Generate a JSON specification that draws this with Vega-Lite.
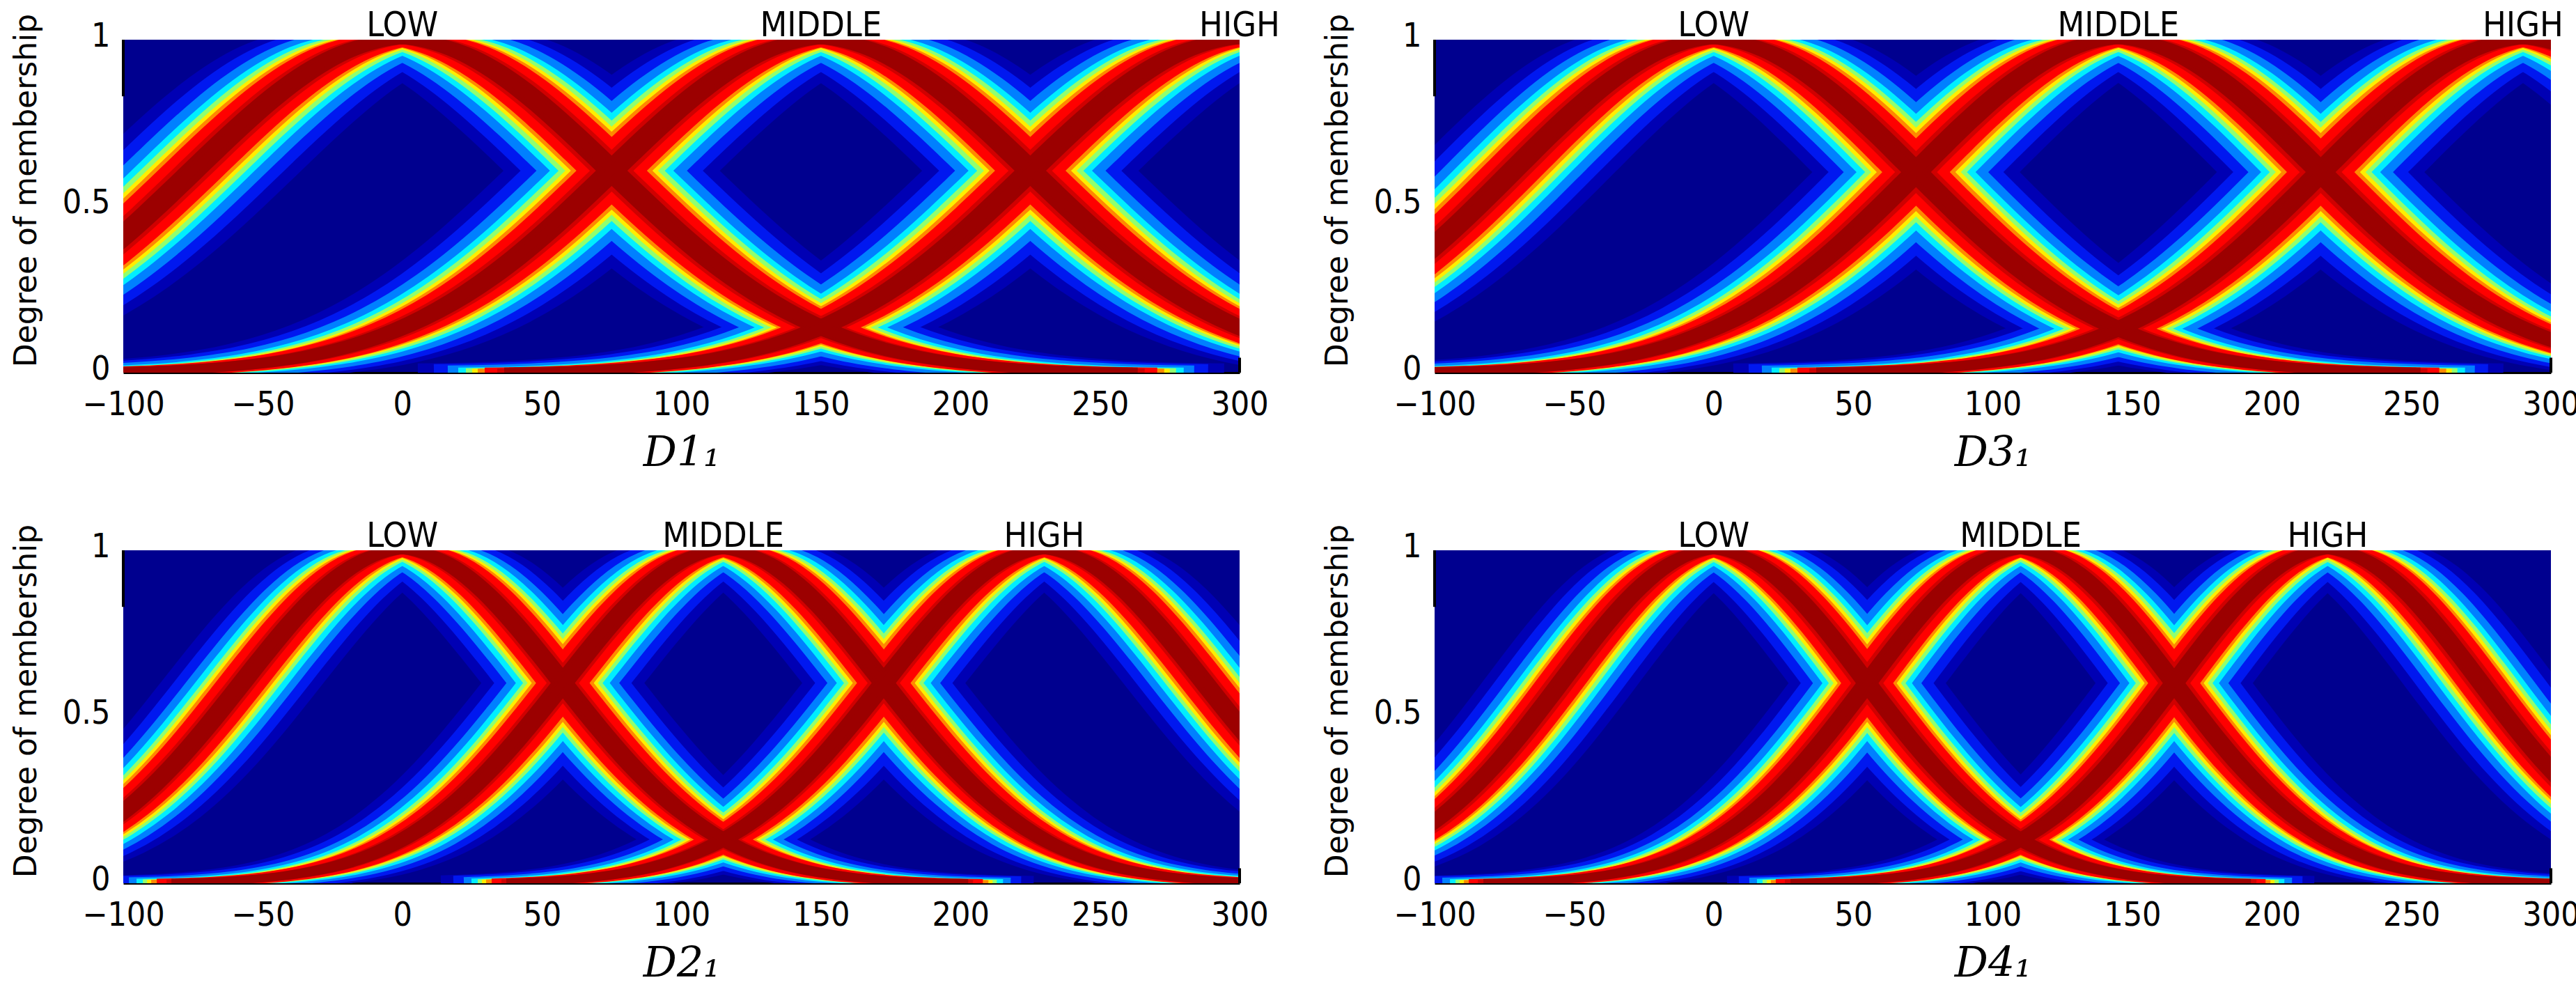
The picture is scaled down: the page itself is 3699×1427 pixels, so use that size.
{
  "$schema": "https://vega.github.io/schema/vega-lite/v6.json",
  "padding": {"left": 16, "top": 12, "right": 5, "bottom": 5},
  "background": "white",
  "columns": 2,
  "spacing": {"row": 255, "column": 280},
  "bounds": "flush",
  "datasets": {
    "edges": [
      {"x": -100, "y": 0.83, "y2": 1},
      {"x": 300, "y": 0, "y2": 0.045}
    ],
    "labels": [
      {"p": "D1", "t": "LOW", "x": 0, "y": 1}, {"p": "D1", "t": "MIDDLE", "x": 150, "y": 1}, {"p": "D1", "t": "HIGH", "x": 300, "y": 1},
      {"p": "D3", "t": "LOW", "x": 0, "y": 1}, {"p": "D3", "t": "MIDDLE", "x": 145, "y": 1}, {"p": "D3", "t": "HIGH", "x": 290, "y": 1},
      {"p": "D2", "t": "LOW", "x": 0, "y": 1}, {"p": "D2", "t": "MIDDLE", "x": 115, "y": 1}, {"p": "D2", "t": "HIGH", "x": 230, "y": 1},
      {"p": "D4", "t": "LOW", "x": 0, "y": 1}, {"p": "D4", "t": "MIDDLE", "x": 110, "y": 1}, {"p": "D4", "t": "HIGH", "x": 220, "y": 1}
    ],
    "curves": [
      {"p":"D1","c":"L","x":-150,"y":0.1353},{"p":"D1","c":"L","x":-140,"y":0.1752},{"p":"D1","c":"L","x":-130,"y":0.2226},{"p":"D1","c":"L","x":-120,"y":0.278},{"p":"D1","c":"L","x":-110,"y":0.3411},{"p":"D1","c":"L","x":-100,"y":0.4111},{"p":"D1","c":"L","x":-90,"y":0.4868},{"p":"D1","c":"L","x":-80,"y":0.5661},{"p":"D1","c":"L","x":-70,"y":0.6469},{"p":"D1","c":"L","x":-60,"y":0.7261},{"p":"D1","c":"L","x":-50,"y":0.8007},{"p":"D1","c":"L","x":-40,"y":0.8674},{"p":"D1","c":"L","x":-30,"y":0.9231},{"p":"D1","c":"L","x":-20,"y":0.9651},{"p":"D1","c":"L","x":-10,"y":0.9911},{"p":"D1","c":"L","x":0,"y":1},{"p":"D1","c":"L","x":10,"y":0.9911},{"p":"D1","c":"L","x":20,"y":0.9651},{"p":"D1","c":"L","x":30,"y":0.9231},{"p":"D1","c":"L","x":40,"y":0.8674},{"p":"D1","c":"L","x":50,"y":0.8007},{"p":"D1","c":"L","x":60,"y":0.7261},{"p":"D1","c":"L","x":70,"y":0.6469},{"p":"D1","c":"L","x":80,"y":0.5661},{"p":"D1","c":"L","x":90,"y":0.4868},{"p":"D1","c":"L","x":100,"y":0.4111},{"p":"D1","c":"L","x":110,"y":0.3411},{"p":"D1","c":"L","x":120,"y":0.278},{"p":"D1","c":"L","x":130,"y":0.2226},{"p":"D1","c":"L","x":140,"y":0.1752},{"p":"D1","c":"L","x":150,"y":0.1353},{"p":"D1","c":"L","x":160,"y":0.1027},{"p":"D1","c":"L","x":170,"y":0.0766},{"p":"D1","c":"L","x":180,"y":0.0561},{"p":"D1","c":"L","x":190,"y":0.0404},{"p":"D1","c":"L","x":200,"y":0.0286},{"p":"D1","c":"L","x":210,"y":0.0198},{"p":"D1","c":"L","x":220,"y":0.0135},{"p":"D1","c":"L","x":230,"y":0.0091},{"p":"D1","c":"L","x":240,"y":0.006},{"p":"D1","c":"L","x":250,"y":0.0039},{"p":"D1","c":"L","x":260,"y":0.0025},
      {"p":"D1","c":"M","x":-110,"y":0.0025},{"p":"D1","c":"M","x":-100,"y":0.0039},{"p":"D1","c":"M","x":-90,"y":0.006},{"p":"D1","c":"M","x":-80,"y":0.0091},{"p":"D1","c":"M","x":-70,"y":0.0135},{"p":"D1","c":"M","x":-60,"y":0.0198},{"p":"D1","c":"M","x":-50,"y":0.0286},{"p":"D1","c":"M","x":-40,"y":0.0404},{"p":"D1","c":"M","x":-30,"y":0.0561},{"p":"D1","c":"M","x":-20,"y":0.0766},{"p":"D1","c":"M","x":-10,"y":0.1027},{"p":"D1","c":"M","x":0,"y":0.1353},{"p":"D1","c":"M","x":10,"y":0.1752},{"p":"D1","c":"M","x":20,"y":0.2226},{"p":"D1","c":"M","x":30,"y":0.278},{"p":"D1","c":"M","x":40,"y":0.3411},{"p":"D1","c":"M","x":50,"y":0.4111},{"p":"D1","c":"M","x":60,"y":0.4868},{"p":"D1","c":"M","x":70,"y":0.5661},{"p":"D1","c":"M","x":80,"y":0.6469},{"p":"D1","c":"M","x":90,"y":0.7261},{"p":"D1","c":"M","x":100,"y":0.8007},{"p":"D1","c":"M","x":110,"y":0.8674},{"p":"D1","c":"M","x":120,"y":0.9231},{"p":"D1","c":"M","x":130,"y":0.9651},{"p":"D1","c":"M","x":140,"y":0.9911},{"p":"D1","c":"M","x":150,"y":1},{"p":"D1","c":"M","x":160,"y":0.9911},{"p":"D1","c":"M","x":170,"y":0.9651},{"p":"D1","c":"M","x":180,"y":0.9231},{"p":"D1","c":"M","x":190,"y":0.8674},{"p":"D1","c":"M","x":200,"y":0.8007},{"p":"D1","c":"M","x":210,"y":0.7261},{"p":"D1","c":"M","x":220,"y":0.6469},{"p":"D1","c":"M","x":230,"y":0.5661},{"p":"D1","c":"M","x":240,"y":0.4868},{"p":"D1","c":"M","x":250,"y":0.4111},{"p":"D1","c":"M","x":260,"y":0.3411},{"p":"D1","c":"M","x":270,"y":0.278},{"p":"D1","c":"M","x":280,"y":0.2226},{"p":"D1","c":"M","x":290,"y":0.1752},{"p":"D1","c":"M","x":300,"y":0.1353},{"p":"D1","c":"M","x":310,"y":0.1027},{"p":"D1","c":"M","x":320,"y":0.0766},{"p":"D1","c":"M","x":330,"y":0.0561},{"p":"D1","c":"M","x":340,"y":0.0404},{"p":"D1","c":"M","x":350,"y":0.0286},
      {"p":"D1","c":"H","x":40,"y":0.0025},{"p":"D1","c":"H","x":50,"y":0.0039},{"p":"D1","c":"H","x":60,"y":0.006},{"p":"D1","c":"H","x":70,"y":0.0091},{"p":"D1","c":"H","x":80,"y":0.0135},{"p":"D1","c":"H","x":90,"y":0.0198},{"p":"D1","c":"H","x":100,"y":0.0286},{"p":"D1","c":"H","x":110,"y":0.0404},{"p":"D1","c":"H","x":120,"y":0.0561},{"p":"D1","c":"H","x":130,"y":0.0766},{"p":"D1","c":"H","x":140,"y":0.1027},{"p":"D1","c":"H","x":150,"y":0.1353},{"p":"D1","c":"H","x":160,"y":0.1752},{"p":"D1","c":"H","x":170,"y":0.2226},{"p":"D1","c":"H","x":180,"y":0.278},{"p":"D1","c":"H","x":190,"y":0.3411},{"p":"D1","c":"H","x":200,"y":0.4111},{"p":"D1","c":"H","x":210,"y":0.4868},{"p":"D1","c":"H","x":220,"y":0.5661},{"p":"D1","c":"H","x":230,"y":0.6469},{"p":"D1","c":"H","x":240,"y":0.7261},{"p":"D1","c":"H","x":250,"y":0.8007},{"p":"D1","c":"H","x":260,"y":0.8674},{"p":"D1","c":"H","x":270,"y":0.9231},{"p":"D1","c":"H","x":280,"y":0.9651},{"p":"D1","c":"H","x":290,"y":0.9911},{"p":"D1","c":"H","x":300,"y":1},{"p":"D1","c":"H","x":310,"y":0.9911},{"p":"D1","c":"H","x":320,"y":0.9651},{"p":"D1","c":"H","x":330,"y":0.9231},{"p":"D1","c":"H","x":340,"y":0.8674},{"p":"D1","c":"H","x":350,"y":0.8007},

      {"p":"D3","c":"L","x":-150,"y":0.1141},{"p":"D3","c":"L","x":-140,"y":0.151},{"p":"D3","c":"L","x":-130,"y":0.1959},{"p":"D3","c":"L","x":-120,"y":0.2494},{"p":"D3","c":"L","x":-110,"y":0.3113},{"p":"D3","c":"L","x":-100,"y":0.3812},{"p":"D3","c":"L","x":-90,"y":0.4578},{"p":"D3","c":"L","x":-80,"y":0.5394},{"p":"D3","c":"L","x":-70,"y":0.6234},{"p":"D3","c":"L","x":-60,"y":0.7066},{"p":"D3","c":"L","x":-50,"y":0.7857},{"p":"D3","c":"L","x":-40,"y":0.857},{"p":"D3","c":"L","x":-30,"y":0.9169},{"p":"D3","c":"L","x":-20,"y":0.9622},{"p":"D3","c":"L","x":-10,"y":0.9904},{"p":"D3","c":"L","x":0,"y":1},{"p":"D3","c":"L","x":10,"y":0.9904},{"p":"D3","c":"L","x":20,"y":0.9622},{"p":"D3","c":"L","x":30,"y":0.9169},{"p":"D3","c":"L","x":40,"y":0.857},{"p":"D3","c":"L","x":50,"y":0.7857},{"p":"D3","c":"L","x":60,"y":0.7066},{"p":"D3","c":"L","x":70,"y":0.6234},{"p":"D3","c":"L","x":80,"y":0.5394},{"p":"D3","c":"L","x":90,"y":0.4578},{"p":"D3","c":"L","x":100,"y":0.3812},{"p":"D3","c":"L","x":110,"y":0.3113},{"p":"D3","c":"L","x":120,"y":0.2494},{"p":"D3","c":"L","x":130,"y":0.1959},{"p":"D3","c":"L","x":140,"y":0.151},{"p":"D3","c":"L","x":150,"y":0.1141},{"p":"D3","c":"L","x":160,"y":0.0847},{"p":"D3","c":"L","x":170,"y":0.0616},{"p":"D3","c":"L","x":180,"y":0.0439},{"p":"D3","c":"L","x":190,"y":0.0307},{"p":"D3","c":"L","x":200,"y":0.0211},{"p":"D3","c":"L","x":210,"y":0.0142},{"p":"D3","c":"L","x":220,"y":0.0094},{"p":"D3","c":"L","x":230,"y":0.0061},{"p":"D3","c":"L","x":240,"y":0.0039},{"p":"D3","c":"L","x":250,"y":0.0024},
      {"p":"D3","c":"M","x":-100,"y":0.0031},{"p":"D3","c":"M","x":-90,"y":0.0049},{"p":"D3","c":"M","x":-80,"y":0.0076},{"p":"D3","c":"M","x":-70,"y":0.0116},{"p":"D3","c":"M","x":-60,"y":0.0174},{"p":"D3","c":"M","x":-50,"y":0.0255},{"p":"D3","c":"M","x":-40,"y":0.0368},{"p":"D3","c":"M","x":-30,"y":0.0521},{"p":"D3","c":"M","x":-20,"y":0.0724},{"p":"D3","c":"M","x":-10,"y":0.0986},{"p":"D3","c":"M","x":0,"y":0.1316},{"p":"D3","c":"M","x":10,"y":0.1724},{"p":"D3","c":"M","x":20,"y":0.2215},{"p":"D3","c":"M","x":30,"y":0.2793},{"p":"D3","c":"M","x":40,"y":0.3453},{"p":"D3","c":"M","x":50,"y":0.4187},{"p":"D3","c":"M","x":60,"y":0.4982},{"p":"D3","c":"M","x":70,"y":0.5813},{"p":"D3","c":"M","x":80,"y":0.6653},{"p":"D3","c":"M","x":90,"y":0.7469},{"p":"D3","c":"M","x":100,"y":0.8226},{"p":"D3","c":"M","x":110,"y":0.8886},{"p":"D3","c":"M","x":120,"y":0.9415},{"p":"D3","c":"M","x":130,"y":0.9785},{"p":"D3","c":"M","x":140,"y":0.9976},{"p":"D3","c":"M","x":145,"y":1},{"p":"D3","c":"M","x":150,"y":0.9976},{"p":"D3","c":"M","x":160,"y":0.9785},{"p":"D3","c":"M","x":170,"y":0.9415},{"p":"D3","c":"M","x":180,"y":0.8886},{"p":"D3","c":"M","x":190,"y":0.8226},{"p":"D3","c":"M","x":200,"y":0.7469},{"p":"D3","c":"M","x":210,"y":0.6653},{"p":"D3","c":"M","x":220,"y":0.5813},{"p":"D3","c":"M","x":230,"y":0.4982},{"p":"D3","c":"M","x":240,"y":0.4187},{"p":"D3","c":"M","x":250,"y":0.3453},{"p":"D3","c":"M","x":260,"y":0.2793},{"p":"D3","c":"M","x":270,"y":0.2215},{"p":"D3","c":"M","x":280,"y":0.1724},{"p":"D3","c":"M","x":290,"y":0.1316},{"p":"D3","c":"M","x":300,"y":0.0986},{"p":"D3","c":"M","x":310,"y":0.0724},{"p":"D3","c":"M","x":320,"y":0.0521},{"p":"D3","c":"M","x":330,"y":0.0368},{"p":"D3","c":"M","x":340,"y":0.0255},{"p":"D3","c":"M","x":350,"y":0.0174},
      {"p":"D3","c":"H","x":40,"y":0.0024},{"p":"D3","c":"H","x":50,"y":0.0039},{"p":"D3","c":"H","x":60,"y":0.0061},{"p":"D3","c":"H","x":70,"y":0.0094},{"p":"D3","c":"H","x":80,"y":0.0142},{"p":"D3","c":"H","x":90,"y":0.0211},{"p":"D3","c":"H","x":100,"y":0.0307},{"p":"D3","c":"H","x":110,"y":0.0439},{"p":"D3","c":"H","x":120,"y":0.0616},{"p":"D3","c":"H","x":130,"y":0.0847},{"p":"D3","c":"H","x":140,"y":0.1141},{"p":"D3","c":"H","x":150,"y":0.151},{"p":"D3","c":"H","x":160,"y":0.1959},{"p":"D3","c":"H","x":170,"y":0.2494},{"p":"D3","c":"H","x":180,"y":0.3113},{"p":"D3","c":"H","x":190,"y":0.3812},{"p":"D3","c":"H","x":200,"y":0.4578},{"p":"D3","c":"H","x":210,"y":0.5394},{"p":"D3","c":"H","x":220,"y":0.6234},{"p":"D3","c":"H","x":230,"y":0.7066},{"p":"D3","c":"H","x":240,"y":0.7857},{"p":"D3","c":"H","x":250,"y":0.857},{"p":"D3","c":"H","x":260,"y":0.9169},{"p":"D3","c":"H","x":270,"y":0.9622},{"p":"D3","c":"H","x":280,"y":0.9904},{"p":"D3","c":"H","x":290,"y":1},{"p":"D3","c":"H","x":300,"y":0.9904},{"p":"D3","c":"H","x":310,"y":0.9622},{"p":"D3","c":"H","x":320,"y":0.9169},{"p":"D3","c":"H","x":330,"y":0.857},{"p":"D3","c":"H","x":340,"y":0.7857},{"p":"D3","c":"H","x":350,"y":0.7066},

      {"p":"D2","c":"L","x":-150,"y":0.0313},{"p":"D2","c":"L","x":-140,"y":0.049},{"p":"D2","c":"L","x":-130,"y":0.0742},{"p":"D2","c":"L","x":-120,"y":0.109},{"p":"D2","c":"L","x":-110,"y":0.1553},{"p":"D2","c":"L","x":-100,"y":0.2146},{"p":"D2","c":"L","x":-90,"y":0.2875},{"p":"D2","c":"L","x":-80,"y":0.3734},{"p":"D2","c":"L","x":-70,"y":0.4704},{"p":"D2","c":"L","x":-60,"y":0.5747},{"p":"D2","c":"L","x":-50,"y":0.6806},{"p":"D2","c":"L","x":-40,"y":0.7817},{"p":"D2","c":"L","x":-30,"y":0.8707},{"p":"D2","c":"L","x":-20,"y":0.9403},{"p":"D2","c":"L","x":-10,"y":0.9847},{"p":"D2","c":"L","x":0,"y":1},{"p":"D2","c":"L","x":10,"y":0.9847},{"p":"D2","c":"L","x":20,"y":0.9403},{"p":"D2","c":"L","x":30,"y":0.8707},{"p":"D2","c":"L","x":40,"y":0.7817},{"p":"D2","c":"L","x":50,"y":0.6806},{"p":"D2","c":"L","x":60,"y":0.5747},{"p":"D2","c":"L","x":70,"y":0.4704},{"p":"D2","c":"L","x":80,"y":0.3734},{"p":"D2","c":"L","x":90,"y":0.2875},{"p":"D2","c":"L","x":100,"y":0.2146},{"p":"D2","c":"L","x":110,"y":0.1553},{"p":"D2","c":"L","x":120,"y":0.109},{"p":"D2","c":"L","x":130,"y":0.0742},{"p":"D2","c":"L","x":140,"y":0.049},{"p":"D2","c":"L","x":150,"y":0.0313},{"p":"D2","c":"L","x":160,"y":0.0195},{"p":"D2","c":"L","x":170,"y":0.0117},{"p":"D2","c":"L","x":180,"y":0.0068},{"p":"D2","c":"L","x":190,"y":0.0039},{"p":"D2","c":"L","x":200,"y":0.0021},
      {"p":"D2","c":"M","x":-80,"y":0.0029},{"p":"D2","c":"M","x":-70,"y":0.0052},{"p":"D2","c":"M","x":-60,"y":0.009},{"p":"D2","c":"M","x":-50,"y":0.0152},{"p":"D2","c":"M","x":-40,"y":0.0248},{"p":"D2","c":"M","x":-30,"y":0.0393},{"p":"D2","c":"M","x":-20,"y":0.0605},{"p":"D2","c":"M","x":-10,"y":0.0903},{"p":"D2","c":"M","x":0,"y":0.1306},{"p":"D2","c":"M","x":10,"y":0.1833},{"p":"D2","c":"M","x":20,"y":0.2494},{"p":"D2","c":"M","x":30,"y":0.3289},{"p":"D2","c":"M","x":40,"y":0.4208},{"p":"D2","c":"M","x":50,"y":0.522},{"p":"D2","c":"M","x":60,"y":0.6278},{"p":"D2","c":"M","x":70,"y":0.7323},{"p":"D2","c":"M","x":80,"y":0.8282},{"p":"D2","c":"M","x":90,"y":0.9083},{"p":"D2","c":"M","x":100,"y":0.966},{"p":"D2","c":"M","x":110,"y":0.9962},{"p":"D2","c":"M","x":115,"y":1},{"p":"D2","c":"M","x":120,"y":0.9962},{"p":"D2","c":"M","x":130,"y":0.966},{"p":"D2","c":"M","x":140,"y":0.9083},{"p":"D2","c":"M","x":150,"y":0.8282},{"p":"D2","c":"M","x":160,"y":0.7323},{"p":"D2","c":"M","x":170,"y":0.6278},{"p":"D2","c":"M","x":180,"y":0.522},{"p":"D2","c":"M","x":190,"y":0.4208},{"p":"D2","c":"M","x":200,"y":0.3289},{"p":"D2","c":"M","x":210,"y":0.2494},{"p":"D2","c":"M","x":220,"y":0.1833},{"p":"D2","c":"M","x":230,"y":0.1306},{"p":"D2","c":"M","x":240,"y":0.0903},{"p":"D2","c":"M","x":250,"y":0.0605},{"p":"D2","c":"M","x":260,"y":0.0393},{"p":"D2","c":"M","x":270,"y":0.0248},{"p":"D2","c":"M","x":280,"y":0.0152},{"p":"D2","c":"M","x":290,"y":0.009},{"p":"D2","c":"M","x":300,"y":0.0052},{"p":"D2","c":"M","x":310,"y":0.0029},
      {"p":"D2","c":"H","x":40,"y":0.0039},{"p":"D2","c":"H","x":50,"y":0.0068},{"p":"D2","c":"H","x":60,"y":0.0117},{"p":"D2","c":"H","x":70,"y":0.0195},{"p":"D2","c":"H","x":80,"y":0.0313},{"p":"D2","c":"H","x":90,"y":0.049},{"p":"D2","c":"H","x":100,"y":0.0742},{"p":"D2","c":"H","x":110,"y":0.109},{"p":"D2","c":"H","x":120,"y":0.1553},{"p":"D2","c":"H","x":130,"y":0.2146},{"p":"D2","c":"H","x":140,"y":0.2875},{"p":"D2","c":"H","x":150,"y":0.3734},{"p":"D2","c":"H","x":160,"y":0.4704},{"p":"D2","c":"H","x":170,"y":0.5747},{"p":"D2","c":"H","x":180,"y":0.6806},{"p":"D2","c":"H","x":190,"y":0.7817},{"p":"D2","c":"H","x":200,"y":0.8707},{"p":"D2","c":"H","x":210,"y":0.9403},{"p":"D2","c":"H","x":220,"y":0.9847},{"p":"D2","c":"H","x":230,"y":1},{"p":"D2","c":"H","x":240,"y":0.9847},{"p":"D2","c":"H","x":250,"y":0.9403},{"p":"D2","c":"H","x":260,"y":0.8707},{"p":"D2","c":"H","x":270,"y":0.7817},{"p":"D2","c":"H","x":280,"y":0.6806},{"p":"D2","c":"H","x":290,"y":0.5747},{"p":"D2","c":"H","x":300,"y":0.4704},{"p":"D2","c":"H","x":310,"y":0.3734},{"p":"D2","c":"H","x":320,"y":0.2875},{"p":"D2","c":"H","x":330,"y":0.2146},{"p":"D2","c":"H","x":340,"y":0.1553},{"p":"D2","c":"H","x":350,"y":0.109},

      {"p":"D4","c":"L","x":-150,"y":0.0226},{"p":"D4","c":"L","x":-140,"y":0.0369},{"p":"D4","c":"L","x":-130,"y":0.0581},{"p":"D4","c":"L","x":-120,"y":0.0886},{"p":"D4","c":"L","x":-110,"y":0.1304},{"p":"D4","c":"L","x":-100,"y":0.1857},{"p":"D4","c":"L","x":-90,"y":0.2558},{"p":"D4","c":"L","x":-80,"y":0.3405},{"p":"D4","c":"L","x":-70,"y":0.4383},{"p":"D4","c":"L","x":-60,"y":0.5455},{"p":"D4","c":"L","x":-50,"y":0.6565},{"p":"D4","c":"L","x":-40,"y":0.7639},{"p":"D4","c":"L","x":-30,"y":0.8594},{"p":"D4","c":"L","x":-20,"y":0.9349},{"p":"D4","c":"L","x":-10,"y":0.9833},{"p":"D4","c":"L","x":0,"y":1},{"p":"D4","c":"L","x":10,"y":0.9833},{"p":"D4","c":"L","x":20,"y":0.9349},{"p":"D4","c":"L","x":30,"y":0.8594},{"p":"D4","c":"L","x":40,"y":0.7639},{"p":"D4","c":"L","x":50,"y":0.6565},{"p":"D4","c":"L","x":60,"y":0.5455},{"p":"D4","c":"L","x":70,"y":0.4383},{"p":"D4","c":"L","x":80,"y":0.3405},{"p":"D4","c":"L","x":90,"y":0.2558},{"p":"D4","c":"L","x":100,"y":0.1857},{"p":"D4","c":"L","x":110,"y":0.1304},{"p":"D4","c":"L","x":120,"y":0.0886},{"p":"D4","c":"L","x":130,"y":0.0581},{"p":"D4","c":"L","x":140,"y":0.0369},{"p":"D4","c":"L","x":150,"y":0.0226},{"p":"D4","c":"L","x":160,"y":0.0134},{"p":"D4","c":"L","x":170,"y":0.0077},{"p":"D4","c":"L","x":180,"y":0.0043},{"p":"D4","c":"L","x":190,"y":0.0023},
      {"p":"D4","c":"M","x":-80,"y":0.0023},{"p":"D4","c":"M","x":-70,"y":0.0043},{"p":"D4","c":"M","x":-60,"y":0.0077},{"p":"D4","c":"M","x":-50,"y":0.0134},{"p":"D4","c":"M","x":-40,"y":0.0226},{"p":"D4","c":"M","x":-30,"y":0.0369},{"p":"D4","c":"M","x":-20,"y":0.0581},{"p":"D4","c":"M","x":-10,"y":0.0886},{"p":"D4","c":"M","x":0,"y":0.1304},{"p":"D4","c":"M","x":10,"y":0.1857},{"p":"D4","c":"M","x":20,"y":0.2558},{"p":"D4","c":"M","x":30,"y":0.3405},{"p":"D4","c":"M","x":40,"y":0.4383},{"p":"D4","c":"M","x":50,"y":0.5455},{"p":"D4","c":"M","x":60,"y":0.6565},{"p":"D4","c":"M","x":70,"y":0.7639},{"p":"D4","c":"M","x":80,"y":0.8594},{"p":"D4","c":"M","x":90,"y":0.9349},{"p":"D4","c":"M","x":100,"y":0.9833},{"p":"D4","c":"M","x":110,"y":1},{"p":"D4","c":"M","x":120,"y":0.9833},{"p":"D4","c":"M","x":130,"y":0.9349},{"p":"D4","c":"M","x":140,"y":0.8594},{"p":"D4","c":"M","x":150,"y":0.7639},{"p":"D4","c":"M","x":160,"y":0.6565},{"p":"D4","c":"M","x":170,"y":0.5455},{"p":"D4","c":"M","x":180,"y":0.4383},{"p":"D4","c":"M","x":190,"y":0.3405},{"p":"D4","c":"M","x":200,"y":0.2558},{"p":"D4","c":"M","x":210,"y":0.1857},{"p":"D4","c":"M","x":220,"y":0.1304},{"p":"D4","c":"M","x":230,"y":0.0886},{"p":"D4","c":"M","x":240,"y":0.0581},{"p":"D4","c":"M","x":250,"y":0.0369},{"p":"D4","c":"M","x":260,"y":0.0226},{"p":"D4","c":"M","x":270,"y":0.0134},{"p":"D4","c":"M","x":280,"y":0.0077},{"p":"D4","c":"M","x":290,"y":0.0043},{"p":"D4","c":"M","x":300,"y":0.0023},
      {"p":"D4","c":"H","x":30,"y":0.0023},{"p":"D4","c":"H","x":40,"y":0.0043},{"p":"D4","c":"H","x":50,"y":0.0077},{"p":"D4","c":"H","x":60,"y":0.0134},{"p":"D4","c":"H","x":70,"y":0.0226},{"p":"D4","c":"H","x":80,"y":0.0369},{"p":"D4","c":"H","x":90,"y":0.0581},{"p":"D4","c":"H","x":100,"y":0.0886},{"p":"D4","c":"H","x":110,"y":0.1304},{"p":"D4","c":"H","x":120,"y":0.1857},{"p":"D4","c":"H","x":130,"y":0.2558},{"p":"D4","c":"H","x":140,"y":0.3405},{"p":"D4","c":"H","x":150,"y":0.4383},{"p":"D4","c":"H","x":160,"y":0.5455},{"p":"D4","c":"H","x":170,"y":0.6565},{"p":"D4","c":"H","x":180,"y":0.7639},{"p":"D4","c":"H","x":190,"y":0.8594},{"p":"D4","c":"H","x":200,"y":0.9349},{"p":"D4","c":"H","x":210,"y":0.9833},{"p":"D4","c":"H","x":220,"y":1},{"p":"D4","c":"H","x":230,"y":0.9833},{"p":"D4","c":"H","x":240,"y":0.9349},{"p":"D4","c":"H","x":250,"y":0.8594},{"p":"D4","c":"H","x":260,"y":0.7639},{"p":"D4","c":"H","x":270,"y":0.6565},{"p":"D4","c":"H","x":280,"y":0.5455},{"p":"D4","c":"H","x":290,"y":0.4383},{"p":"D4","c":"H","x":300,"y":0.3405},{"p":"D4","c":"H","x":310,"y":0.2558},{"p":"D4","c":"H","x":320,"y":0.1857},{"p":"D4","c":"H","x":330,"y":0.1304},{"p":"D4","c":"H","x":340,"y":0.0886},{"p":"D4","c":"H","x":350,"y":0.0581}
    ]
  },
  "concat": [
    {
      "width": 1603, "height": 478,
      "encoding": {
        "x": {"field": "x", "type": "quantitative", "scale": {"domain": [-100, 300], "nice": false, "zero": false}, "axis": {"title": "D1₁", "values": [-100, -50, 0, 50, 100, 150, 200, 250, 300], "format": "d"}},
        "y": {"field": "y", "type": "quantitative", "scale": {"domain": [0, 1], "nice": false}, "axis": {"title": "Degree of membership", "values": [0, 0.5, 1], "format": "~g"}}
      },
      "layer": [
        {
          "data": {"name": "curves"},
          "transform": [{"filter": "datum.p === 'D1'"}],
          "encoding": {"detail": {"field": "c", "type": "nominal"}},
          "layer": [
            {"mark": {"type": "line", "clip": true, "interpolate": "monotone", "color": "#0000b4", "strokeWidth": 24, "xOffset": -138}},
            {"mark": {"type": "line", "clip": true, "interpolate": "monotone", "color": "#0000b4", "strokeWidth": 24, "xOffset": 138}},
            {"mark": {"type": "line", "clip": true, "interpolate": "monotone", "color": "#0018f0", "strokeWidth": 22, "xOffset": -115}},
            {"mark": {"type": "line", "clip": true, "interpolate": "monotone", "color": "#0018f0", "strokeWidth": 22, "xOffset": 115}},
            {"mark": {"type": "line", "clip": true, "interpolate": "monotone", "color": "#0080ff", "strokeWidth": 18, "xOffset": -95}},
            {"mark": {"type": "line", "clip": true, "interpolate": "monotone", "color": "#0080ff", "strokeWidth": 18, "xOffset": 95}},
            {"mark": {"type": "line", "clip": true, "interpolate": "monotone", "color": "#00eeff", "strokeWidth": 12, "xOffset": -80}},
            {"mark": {"type": "line", "clip": true, "interpolate": "monotone", "color": "#00eeff", "strokeWidth": 12, "xOffset": 80}},
            {"mark": {"type": "line", "clip": true, "interpolate": "monotone", "color": "#90ff70", "strokeWidth": 10, "xOffset": -69}},
            {"mark": {"type": "line", "clip": true, "interpolate": "monotone", "color": "#90ff70", "strokeWidth": 10, "xOffset": 69}},
            {"mark": {"type": "line", "clip": true, "interpolate": "monotone", "color": "#ffee00", "strokeWidth": 9, "xOffset": -60}},
            {"mark": {"type": "line", "clip": true, "interpolate": "monotone", "color": "#ffee00", "strokeWidth": 9, "xOffset": 60}},
            {"mark": {"type": "line", "clip": true, "interpolate": "monotone", "color": "#ff8800", "strokeWidth": 9, "xOffset": -52}},
            {"mark": {"type": "line", "clip": true, "interpolate": "monotone", "color": "#ff8800", "strokeWidth": 9, "xOffset": 52}},
            {"mark": {"type": "line", "clip": true, "interpolate": "monotone", "color": "#ff0000", "strokeWidth": 12, "xOffset": -42}},
            {"mark": {"type": "line", "clip": true, "interpolate": "monotone", "color": "#ff0000", "strokeWidth": 12, "xOffset": 42}},
            {"mark": {"type": "line", "clip": true, "interpolate": "monotone", "color": "#ff0000", "strokeWidth": 10, "xOffset": -32}},
            {"mark": {"type": "line", "clip": true, "interpolate": "monotone", "color": "#ff0000", "strokeWidth": 10, "xOffset": 32}},
            {"mark": {"type": "line", "clip": true, "interpolate": "monotone", "color": "#d00000", "strokeWidth": 10, "xOffset": -24}},
            {"mark": {"type": "line", "clip": true, "interpolate": "monotone", "color": "#d00000", "strokeWidth": 10, "xOffset": 24}},
            {"mark": {"type": "line", "clip": true, "interpolate": "monotone", "color": "#9c0000", "strokeWidth": 12, "xOffset": -14}},
            {"mark": {"type": "line", "clip": true, "interpolate": "monotone", "color": "#9c0000", "strokeWidth": 12, "xOffset": 14}},
            {"mark": {"type": "line", "clip": true, "interpolate": "monotone", "color": "#9c0000", "strokeWidth": 12, "xOffset": -7}},
            {"mark": {"type": "line", "clip": true, "interpolate": "monotone", "color": "#9c0000", "strokeWidth": 12, "xOffset": 7}},
            {"mark": {"type": "line", "clip": true, "interpolate": "monotone", "color": "#9c0000", "strokeWidth": 12, "xOffset": 0}}
          ]
        },
        {
          "data": {"name": "edges"},
          "mark": {"type": "rule", "color": "black", "strokeWidth": 4},
          "encoding": {"y2": {"field": "y2"}}
        },
        {
          "data": {"name": "labels"},
          "transform": [{"filter": "datum.p === 'D1'"}],
          "mark": {"type": "text", "font": "Liberation Sans Narrow, DejaVu Sans Condensed, Liberation Sans", "fontSize": 50, "color": "black", "baseline": "alphabetic", "align": "center", "dy": -5},
          "encoding": {"text": {"field": "t", "type": "nominal"}}
        }
      ]
    },
    {
      "width": 1603, "height": 478,
      "encoding": {
        "x": {"field": "x", "type": "quantitative", "scale": {"domain": [-100, 300], "nice": false, "zero": false}, "axis": {"title": "D3₁", "values": [-100, -50, 0, 50, 100, 150, 200, 250, 300], "format": "d"}},
        "y": {"field": "y", "type": "quantitative", "scale": {"domain": [0, 1], "nice": false}, "axis": {"title": "Degree of membership", "values": [0, 0.5, 1], "format": "~g"}}
      },
      "layer": [
        {
          "data": {"name": "curves"},
          "transform": [{"filter": "datum.p === 'D3'"}],
          "encoding": {"detail": {"field": "c", "type": "nominal"}},
          "layer": [
            {"mark": {"type": "line", "clip": true, "interpolate": "monotone", "color": "#0000b4", "strokeWidth": 24, "xOffset": -132}},
            {"mark": {"type": "line", "clip": true, "interpolate": "monotone", "color": "#0000b4", "strokeWidth": 24, "xOffset": 132}},
            {"mark": {"type": "line", "clip": true, "interpolate": "monotone", "color": "#0018f0", "strokeWidth": 22, "xOffset": -110}},
            {"mark": {"type": "line", "clip": true, "interpolate": "monotone", "color": "#0018f0", "strokeWidth": 22, "xOffset": 110}},
            {"mark": {"type": "line", "clip": true, "interpolate": "monotone", "color": "#0080ff", "strokeWidth": 18, "xOffset": -91}},
            {"mark": {"type": "line", "clip": true, "interpolate": "monotone", "color": "#0080ff", "strokeWidth": 18, "xOffset": 91}},
            {"mark": {"type": "line", "clip": true, "interpolate": "monotone", "color": "#00eeff", "strokeWidth": 12, "xOffset": -77}},
            {"mark": {"type": "line", "clip": true, "interpolate": "monotone", "color": "#00eeff", "strokeWidth": 12, "xOffset": 77}},
            {"mark": {"type": "line", "clip": true, "interpolate": "monotone", "color": "#90ff70", "strokeWidth": 10, "xOffset": -66}},
            {"mark": {"type": "line", "clip": true, "interpolate": "monotone", "color": "#90ff70", "strokeWidth": 10, "xOffset": 66}},
            {"mark": {"type": "line", "clip": true, "interpolate": "monotone", "color": "#ffee00", "strokeWidth": 9, "xOffset": -58}},
            {"mark": {"type": "line", "clip": true, "interpolate": "monotone", "color": "#ffee00", "strokeWidth": 9, "xOffset": 58}},
            {"mark": {"type": "line", "clip": true, "interpolate": "monotone", "color": "#ff8800", "strokeWidth": 9, "xOffset": -50}},
            {"mark": {"type": "line", "clip": true, "interpolate": "monotone", "color": "#ff8800", "strokeWidth": 9, "xOffset": 50}},
            {"mark": {"type": "line", "clip": true, "interpolate": "monotone", "color": "#ff0000", "strokeWidth": 12, "xOffset": -40}},
            {"mark": {"type": "line", "clip": true, "interpolate": "monotone", "color": "#ff0000", "strokeWidth": 12, "xOffset": 40}},
            {"mark": {"type": "line", "clip": true, "interpolate": "monotone", "color": "#ff0000", "strokeWidth": 10, "xOffset": -31}},
            {"mark": {"type": "line", "clip": true, "interpolate": "monotone", "color": "#ff0000", "strokeWidth": 10, "xOffset": 31}},
            {"mark": {"type": "line", "clip": true, "interpolate": "monotone", "color": "#d00000", "strokeWidth": 10, "xOffset": -23}},
            {"mark": {"type": "line", "clip": true, "interpolate": "monotone", "color": "#d00000", "strokeWidth": 10, "xOffset": 23}},
            {"mark": {"type": "line", "clip": true, "interpolate": "monotone", "color": "#9c0000", "strokeWidth": 12, "xOffset": -13}},
            {"mark": {"type": "line", "clip": true, "interpolate": "monotone", "color": "#9c0000", "strokeWidth": 12, "xOffset": 13}},
            {"mark": {"type": "line", "clip": true, "interpolate": "monotone", "color": "#9c0000", "strokeWidth": 12, "xOffset": -7}},
            {"mark": {"type": "line", "clip": true, "interpolate": "monotone", "color": "#9c0000", "strokeWidth": 12, "xOffset": 7}},
            {"mark": {"type": "line", "clip": true, "interpolate": "monotone", "color": "#9c0000", "strokeWidth": 12, "xOffset": 0}}
          ]
        },
        {
          "data": {"name": "edges"},
          "mark": {"type": "rule", "color": "black", "strokeWidth": 4},
          "encoding": {"y2": {"field": "y2"}}
        },
        {
          "data": {"name": "labels"},
          "transform": [{"filter": "datum.p === 'D3'"}],
          "mark": {"type": "text", "font": "Liberation Sans Narrow, DejaVu Sans Condensed, Liberation Sans", "fontSize": 50, "color": "black", "baseline": "alphabetic", "align": "center", "dy": -5},
          "encoding": {"text": {"field": "t", "type": "nominal"}}
        }
      ]
    },
    {
      "width": 1603, "height": 478,
      "encoding": {
        "x": {"field": "x", "type": "quantitative", "scale": {"domain": [-100, 300], "nice": false, "zero": false}, "axis": {"title": "D2₁", "values": [-100, -50, 0, 50, 100, 150, 200, 250, 300], "format": "d"}},
        "y": {"field": "y", "type": "quantitative", "scale": {"domain": [0, 1], "nice": false}, "axis": {"title": "Degree of membership", "values": [0, 0.5, 1], "format": "~g"}}
      },
      "layer": [
        {
          "data": {"name": "curves"},
          "transform": [{"filter": "datum.p === 'D2'"}],
          "encoding": {"detail": {"field": "c", "type": "nominal"}},
          "layer": [
            {"mark": {"type": "line", "clip": true, "interpolate": "monotone", "color": "#0000b4", "strokeWidth": 19, "xOffset": -105}},
            {"mark": {"type": "line", "clip": true, "interpolate": "monotone", "color": "#0000b4", "strokeWidth": 19, "xOffset": 105}},
            {"mark": {"type": "line", "clip": true, "interpolate": "monotone", "color": "#0018f0", "strokeWidth": 18, "xOffset": -87}},
            {"mark": {"type": "line", "clip": true, "interpolate": "monotone", "color": "#0018f0", "strokeWidth": 18, "xOffset": 87}},
            {"mark": {"type": "line", "clip": true, "interpolate": "monotone", "color": "#0080ff", "strokeWidth": 14, "xOffset": -72}},
            {"mark": {"type": "line", "clip": true, "interpolate": "monotone", "color": "#0080ff", "strokeWidth": 14, "xOffset": 72}},
            {"mark": {"type": "line", "clip": true, "interpolate": "monotone", "color": "#00eeff", "strokeWidth": 10, "xOffset": -61}},
            {"mark": {"type": "line", "clip": true, "interpolate": "monotone", "color": "#00eeff", "strokeWidth": 10, "xOffset": 61}},
            {"mark": {"type": "line", "clip": true, "interpolate": "monotone", "color": "#90ff70", "strokeWidth": 8, "xOffset": -52}},
            {"mark": {"type": "line", "clip": true, "interpolate": "monotone", "color": "#90ff70", "strokeWidth": 8, "xOffset": 52}},
            {"mark": {"type": "line", "clip": true, "interpolate": "monotone", "color": "#ffee00", "strokeWidth": 7, "xOffset": -46}},
            {"mark": {"type": "line", "clip": true, "interpolate": "monotone", "color": "#ffee00", "strokeWidth": 7, "xOffset": 46}},
            {"mark": {"type": "line", "clip": true, "interpolate": "monotone", "color": "#ff8800", "strokeWidth": 7, "xOffset": -40}},
            {"mark": {"type": "line", "clip": true, "interpolate": "monotone", "color": "#ff8800", "strokeWidth": 7, "xOffset": 40}},
            {"mark": {"type": "line", "clip": true, "interpolate": "monotone", "color": "#ff0000", "strokeWidth": 10, "xOffset": -32}},
            {"mark": {"type": "line", "clip": true, "interpolate": "monotone", "color": "#ff0000", "strokeWidth": 10, "xOffset": 32}},
            {"mark": {"type": "line", "clip": true, "interpolate": "monotone", "color": "#ff0000", "strokeWidth": 8, "xOffset": -24}},
            {"mark": {"type": "line", "clip": true, "interpolate": "monotone", "color": "#ff0000", "strokeWidth": 8, "xOffset": 24}},
            {"mark": {"type": "line", "clip": true, "interpolate": "monotone", "color": "#d00000", "strokeWidth": 8, "xOffset": -18}},
            {"mark": {"type": "line", "clip": true, "interpolate": "monotone", "color": "#d00000", "strokeWidth": 8, "xOffset": 18}},
            {"mark": {"type": "line", "clip": true, "interpolate": "monotone", "color": "#9c0000", "strokeWidth": 10, "xOffset": -11}},
            {"mark": {"type": "line", "clip": true, "interpolate": "monotone", "color": "#9c0000", "strokeWidth": 10, "xOffset": 11}},
            {"mark": {"type": "line", "clip": true, "interpolate": "monotone", "color": "#9c0000", "strokeWidth": 10, "xOffset": -5}},
            {"mark": {"type": "line", "clip": true, "interpolate": "monotone", "color": "#9c0000", "strokeWidth": 10, "xOffset": 5}},
            {"mark": {"type": "line", "clip": true, "interpolate": "monotone", "color": "#9c0000", "strokeWidth": 10, "xOffset": 0}}
          ]
        },
        {
          "data": {"name": "edges"},
          "mark": {"type": "rule", "color": "black", "strokeWidth": 4},
          "encoding": {"y2": {"field": "y2"}}
        },
        {
          "data": {"name": "labels"},
          "transform": [{"filter": "datum.p === 'D2'"}],
          "mark": {"type": "text", "font": "Liberation Sans Narrow, DejaVu Sans Condensed, Liberation Sans", "fontSize": 50, "color": "black", "baseline": "alphabetic", "align": "center", "dy": -5},
          "encoding": {"text": {"field": "t", "type": "nominal"}}
        }
      ]
    },
    {
      "width": 1603, "height": 478,
      "encoding": {
        "x": {"field": "x", "type": "quantitative", "scale": {"domain": [-100, 300], "nice": false, "zero": false}, "axis": {"title": "D4₁", "values": [-100, -50, 0, 50, 100, 150, 200, 250, 300], "format": "d"}},
        "y": {"field": "y", "type": "quantitative", "scale": {"domain": [0, 1], "nice": false}, "axis": {"title": "Degree of membership", "values": [0, 0.5, 1], "format": "~g"}}
      },
      "layer": [
        {
          "data": {"name": "curves"},
          "transform": [{"filter": "datum.p === 'D4'"}],
          "encoding": {"detail": {"field": "c", "type": "nominal"}},
          "layer": [
            {"mark": {"type": "line", "clip": true, "interpolate": "monotone", "color": "#0000b4", "strokeWidth": 19, "xOffset": -101}},
            {"mark": {"type": "line", "clip": true, "interpolate": "monotone", "color": "#0000b4", "strokeWidth": 19, "xOffset": 101}},
            {"mark": {"type": "line", "clip": true, "interpolate": "monotone", "color": "#0018f0", "strokeWidth": 18, "xOffset": -84}},
            {"mark": {"type": "line", "clip": true, "interpolate": "monotone", "color": "#0018f0", "strokeWidth": 18, "xOffset": 84}},
            {"mark": {"type": "line", "clip": true, "interpolate": "monotone", "color": "#0080ff", "strokeWidth": 14, "xOffset": -69}},
            {"mark": {"type": "line", "clip": true, "interpolate": "monotone", "color": "#0080ff", "strokeWidth": 14, "xOffset": 69}},
            {"mark": {"type": "line", "clip": true, "interpolate": "monotone", "color": "#00eeff", "strokeWidth": 10, "xOffset": -58}},
            {"mark": {"type": "line", "clip": true, "interpolate": "monotone", "color": "#00eeff", "strokeWidth": 10, "xOffset": 58}},
            {"mark": {"type": "line", "clip": true, "interpolate": "monotone", "color": "#90ff70", "strokeWidth": 8, "xOffset": -50}},
            {"mark": {"type": "line", "clip": true, "interpolate": "monotone", "color": "#90ff70", "strokeWidth": 8, "xOffset": 50}},
            {"mark": {"type": "line", "clip": true, "interpolate": "monotone", "color": "#ffee00", "strokeWidth": 7, "xOffset": -44}},
            {"mark": {"type": "line", "clip": true, "interpolate": "monotone", "color": "#ffee00", "strokeWidth": 7, "xOffset": 44}},
            {"mark": {"type": "line", "clip": true, "interpolate": "monotone", "color": "#ff8800", "strokeWidth": 7, "xOffset": -38}},
            {"mark": {"type": "line", "clip": true, "interpolate": "monotone", "color": "#ff8800", "strokeWidth": 7, "xOffset": 38}},
            {"mark": {"type": "line", "clip": true, "interpolate": "monotone", "color": "#ff0000", "strokeWidth": 10, "xOffset": -31}},
            {"mark": {"type": "line", "clip": true, "interpolate": "monotone", "color": "#ff0000", "strokeWidth": 10, "xOffset": 31}},
            {"mark": {"type": "line", "clip": true, "interpolate": "monotone", "color": "#ff0000", "strokeWidth": 8, "xOffset": -23}},
            {"mark": {"type": "line", "clip": true, "interpolate": "monotone", "color": "#ff0000", "strokeWidth": 8, "xOffset": 23}},
            {"mark": {"type": "line", "clip": true, "interpolate": "monotone", "color": "#d00000", "strokeWidth": 8, "xOffset": -18}},
            {"mark": {"type": "line", "clip": true, "interpolate": "monotone", "color": "#d00000", "strokeWidth": 8, "xOffset": 18}},
            {"mark": {"type": "line", "clip": true, "interpolate": "monotone", "color": "#9c0000", "strokeWidth": 10, "xOffset": -10}},
            {"mark": {"type": "line", "clip": true, "interpolate": "monotone", "color": "#9c0000", "strokeWidth": 10, "xOffset": 10}},
            {"mark": {"type": "line", "clip": true, "interpolate": "monotone", "color": "#9c0000", "strokeWidth": 10, "xOffset": -5}},
            {"mark": {"type": "line", "clip": true, "interpolate": "monotone", "color": "#9c0000", "strokeWidth": 10, "xOffset": 5}},
            {"mark": {"type": "line", "clip": true, "interpolate": "monotone", "color": "#9c0000", "strokeWidth": 10, "xOffset": 0}}
          ]
        },
        {
          "data": {"name": "edges"},
          "mark": {"type": "rule", "color": "black", "strokeWidth": 4},
          "encoding": {"y2": {"field": "y2"}}
        },
        {
          "data": {"name": "labels"},
          "transform": [{"filter": "datum.p === 'D4'"}],
          "mark": {"type": "text", "font": "Liberation Sans Narrow, DejaVu Sans Condensed, Liberation Sans", "fontSize": 50, "color": "black", "baseline": "alphabetic", "align": "center", "dy": -5},
          "encoding": {"text": {"field": "t", "type": "nominal"}}
        }
      ]
    }
  ],
  "config": {
    "view": {"fill": "#00008f", "stroke": null},
    "axis": {
      "grid": false,
      "ticks": false,
      "labelFont": "Liberation Sans Narrow, DejaVu Sans Condensed, Liberation Sans",
      "labelFontSize": 48,
      "labelColor": "black",
      "titleColor": "black",
      "titleFontWeight": "normal"
    },
    "axisX": {
      "domain": true,
      "domainColor": "black",
      "domainWidth": 3,
      "zindex": 1,
      "labelPadding": 22,
      "labelFlush": false,
      "titleFont": "DejaVu Serif",
      "titleFontStyle": "italic",
      "titleFontSize": 60,
      "titlePadding": 16
    },
    "axisY": {
      "domain": false,
      "labelPadding": 19,
      "labelOffset": -5,
      "titleFont": "DejaVu Sans",
      "titleFontSize": 44,
      "titlePadding": 29,
      "titleY": 216
    }
  }
}
